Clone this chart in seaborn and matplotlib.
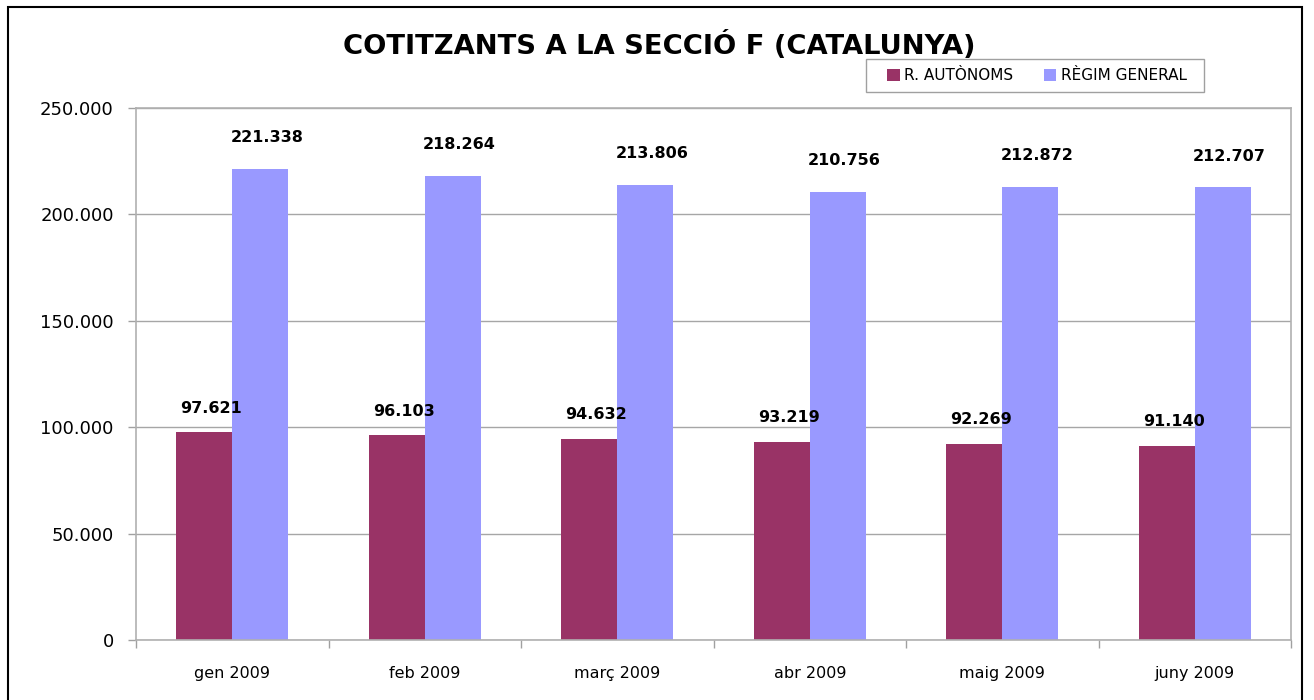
import matplotlib
matplotlib.use("Agg")
import matplotlib.pyplot as plt
import seaborn as sns
import pandas as pd
from matplotlib.patches import Rectangle, Patch

months = ["gen 2009", "feb 2009", "març 2009", "abr 2009", "maig 2009", "juny 2009"]
autonoms = [97621, 96103, 94632, 93219, 92269, 91140]
general = [221338, 218264, 213806, 210756, 212872, 212707]
series_names = ["R. AUTÒNOMS", "RÈGIM GENERAL"]
colors = ["#993366", "#9999FF"]
yticks = [0, 50000, 100000, 150000, 200000, 250000]

df = pd.DataFrame({
    "mes": months * 2,
    "serie": [series_names[0]] * len(months) + [series_names[1]] * len(months),
    "valor": autonoms + general,
})

sns.set_theme(style="white")
plt.rcParams["font.family"] = ["DejaVu Sans"]
plt.rcParams["text.color"] = "black"
plt.rcParams["xtick.color"] = "black"
plt.rcParams["ytick.color"] = "black"

fig = plt.figure(figsize=(13.14, 7.0), dpi=100)
ax = fig.add_axes([136 / 1314, 1 - 640 / 700, (1291 - 136) / 1314, (640 - 108) / 700])

sns.barplot(data=df, x="mes", y="valor", hue="serie", order=months,
            hue_order=series_names, palette=colors, width=0.58, gap=0,
            saturation=1, errorbar=None, ax=ax, legend=False,
            edgecolor="none", linewidth=0)

ax.set_ylim(0, 250000)
ax.set_xlim(-0.5, len(months) - 0.5)
ax.set_yticks(yticks)
ax.set_yticklabels([f"{v:,}".replace(",", ".") for v in yticks], fontsize=13)
ax.set_xlabel("")
ax.set_ylabel("")
ax.tick_params(axis="x", which="major", length=0, labelsize=11.5, pad=19, bottom=True)
ax.set_xticks([i - 0.5 for i in range(len(months) + 1)], minor=True)
ax.tick_params(axis="x", which="minor", length=6, color="#a0a0a0", width=1,
               direction="out", bottom=True)
ax.tick_params(axis="y", length=6, color="#a0a0a0", width=1, direction="out",
               pad=10, left=True, labelcolor="black")
ax.tick_params(axis="x", labelcolor="black")
ax.grid(axis="y", color="#a6a6a6", linewidth=1)
ax.set_axisbelow(True)
for s in ax.spines.values():
    s.set_color("#b0b0b0")
    s.set_linewidth(1.2)

# data labels
offsets = [12, 17]
for container, off in zip(ax.containers, offsets):
    for p in container.patches:
        h = p.get_height()
        ax.annotate(f"{int(round(h)):,}".replace(",", "."),
                    (p.get_x() + p.get_width() / 2, h),
                    xytext=(5, off), textcoords="offset points",
                    ha="center", va="bottom", fontsize=11.5, fontweight="bold",
                    color="black")

fig.text(0.502, 1 - 45 / 700, "COTITZANTS A LA SECCIÓ F (CATALUNYA)",
         ha="center", va="center", fontsize=19.7, fontweight="bold", color="black")

handles = [Patch(facecolor=c, edgecolor="none") for c in colors]
leg = fig.legend(handles, series_names, loc="center",
                 bbox_to_anchor=(1037 / 1314, 1 - 75.5 / 700), ncol=2,
                 fontsize=11, frameon=False,
                 handlelength=0.8, handleheight=0.8, handletextpad=0.3,
                 columnspacing=2.0, borderpad=0.6, borderaxespad=0)
for t in leg.get_texts():
    t.set_color("black")
fig.add_artist(Rectangle((866 / 1314, 1 - 92 / 700), (1204 - 866) / 1314, 33 / 700,
                         transform=fig.transFigure, fill=False,
                         edgecolor="#a0a0a0", linewidth=1))

fig.add_artist(Rectangle((8 / 1314, -0.01), (1302 - 8) / 1314, 1 - 7 / 700 + 0.01,
                         transform=fig.transFigure, fill=False,
                         edgecolor="black", linewidth=1.5))

fig.savefig("out.png", dpi=100)
